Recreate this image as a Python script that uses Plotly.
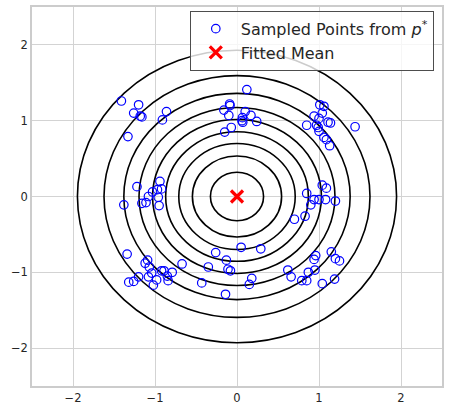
import plotly.graph_objects as go

# sampled points
sample_x = [
    -1.41, -1.20, -1.26, -1.18, -1.16, -0.86, -0.91, -1.33,
    0.12, -0.09, -0.085, -0.16, -0.10, 0.10, 0.17, 0.066, 0.06, 0.07, 0.24, -0.07, -0.15,
    1.01, 1.06, 1.04, 0.94, 1.00, 1.11, 1.14, 0.85, 0.97, 0.99, 1.44, 1.00, 1.06, 1.09, 1.13,
    -0.94, -1.22, -0.92, -0.97, -1.03, -1.08, -0.96, -1.38, -1.16, -1.11, -0.95,
    1.04, 1.09, 0.85, 0.94, 1.00, 1.08, 1.20, 0.90, 0.83, 0.70,
    -1.34, -1.09, -1.12, -1.07, -1.04, -1.08, -0.98, -1.02, -0.92, -0.89, -0.85, -0.84,
    -0.79, -0.67, -1.32, -1.26, -1.20,
    -0.26, 0.05, 0.29, -0.13, -0.35, -0.11, -0.08, 0.18, 0.15, -0.43, -0.14,
    0.96, 0.94, 1.15, 1.20, 1.25, 0.62, 0.66, 0.87, 0.95, 0.79, 0.85, 1.04, 1.19,
]
sample_y = [
    1.26, 1.21, 1.10, 1.06, 1.05, 1.12, 1.01, 0.79,
    1.41, 1.22, 1.20, 1.14, 1.07, 1.12, 1.07, 1.04, 1.00, 0.98, 0.99, 0.91, 0.85,
    1.21, 1.19, 1.10, 1.06, 1.03, 0.98, 0.97, 0.94, 0.94, 0.91, 0.92, 0.86, 0.78, 0.75, 0.67,
    0.20, 0.13, 0.10, 0.09, 0.06, 0.00, -0.01, -0.11, -0.09, -0.08, -0.12,
    0.15, 0.11, 0.04, -0.04, -0.04, -0.04, -0.06, -0.11, -0.26, -0.30,
    -0.76, -0.84, -0.88, -0.93, -1.01, -1.06, -1.10, -1.17, -0.98, -0.98, -1.05, -1.11,
    -1.00, -0.89, -1.13, -1.12, -1.06,
    -0.74, -0.67, -0.69, -0.84, -0.93, -0.96, -0.98, -1.08, -1.16, -1.14, -1.29,
    -0.78, -0.83, -0.73, -0.82, -0.85, -0.97, -1.06, -1.00, -0.97, -1.11, -1.11, -1.15, -1.09,
]

# fitted mean and contour radii of the fitted gaussian
mean_x = [0.0]
mean_y = [0.0]
contour_rx = [0.324, 0.544, 0.71, 0.87, 1.03, 1.195, 1.38, 1.622, 1.946]
contour_ry = [0.32, 0.535, 0.70, 0.855, 1.015, 1.175, 1.36, 1.595, 1.93]

tick_vals = [-2, -1, 0, 1, 2]

fig = go.Figure()

# contour ellipses
for rx, ry in zip(contour_rx, contour_ry):
    fig.add_shape(
        type="circle", xref="x", yref="y",
        x0=mean_x[0] - rx, x1=mean_x[0] + rx,
        y0=mean_y[0] - ry, y1=mean_y[0] + ry,
        line=dict(color="black", width=1.6),
        layer="between"
    )

fig.add_trace(
    go.Scatter(
        x=sample_x, y=sample_y, mode="markers",
        name="Sampled Points from <i>p</i><sup>*</sup>",
        marker=dict(symbol="circle-open", size=8.5, color="blue", line=dict(width=1.2))
    )
)
fig.add_trace(
    go.Scatter(
        x=mean_x, y=mean_y, mode="markers",
        name="Fitted Mean",
        marker=dict(symbol="x-thin-open", size=12, color="red", line=dict(width=3.2, color="red"))
    )
)

axis_style = dict(
    range=[-2.5, 2.5],
    tickvals=tick_vals,
    showgrid=True, gridcolor="#d3d3d3", gridwidth=1,
    zeroline=False,
    showline=True, linecolor="#cccccc", linewidth=1.5, mirror=True,
    ticks="",
    automargin=False,
    tickfont=dict(family="DejaVu Sans", size=11.5, color="#262626"),
)

fig.update_layout(
    width=449, height=413,
    margin=dict(l=32, r=7, t=7, b=27, autoexpand=False),
    paper_bgcolor="white",
    plot_bgcolor="white",
    xaxis=axis_style,
    yaxis=axis_style,
    legend=dict(
        x=0.98, y=0.99, xanchor="right", yanchor="top",
        bgcolor="rgba(255,255,255,0.8)",
        bordercolor="#4d4d4d", borderwidth=1,
        itemwidth=40,
        tracegroupgap=2,
        font=dict(family="DejaVu Sans", size=16, color="#262626"),
    ),
    showlegend=True,
)

# drop the browser's default page margin so the figure sits at the window corner
fig.write_html(
    "out.html",
    config={"displayModeBar": False},
    post_script="document.body.style.margin = '0';",
)
